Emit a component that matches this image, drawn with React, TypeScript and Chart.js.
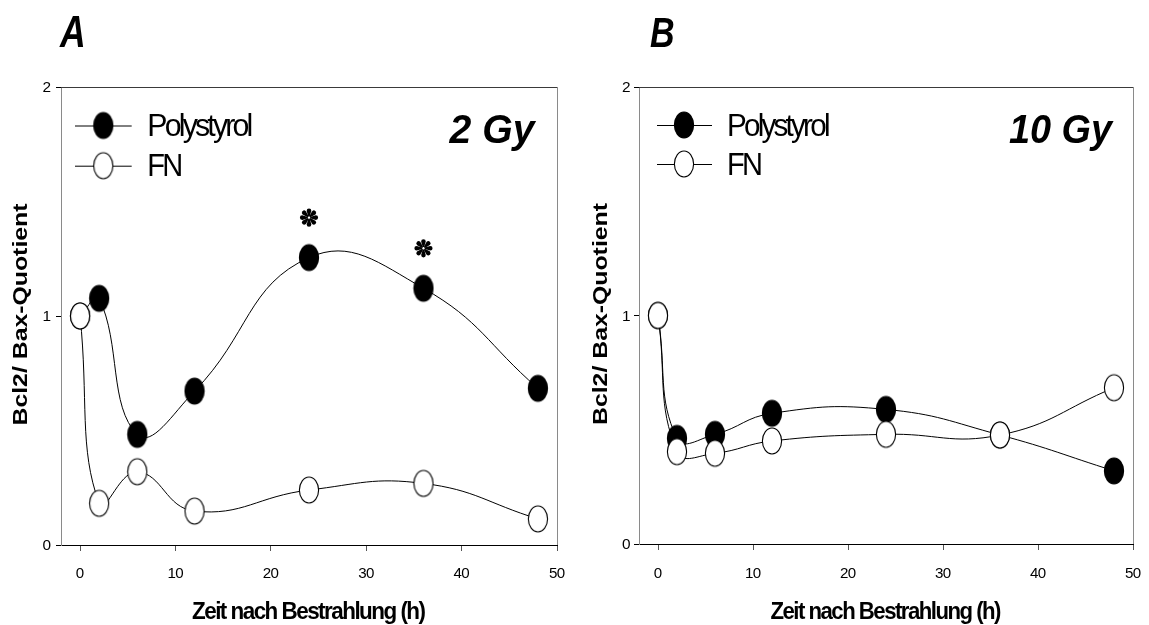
import React, { useEffect, useRef } from 'react';
import { Chart, registerables } from 'chart.js';

Chart.register(...registerables);

// ---------- data ----------
const hours = [0, 2, 6, 12, 24, 36, 48];
const polystyrol2Gy = [1.0, 1.077, 0.483, 0.672, 1.255, 1.121, 0.684];
const fn2Gy = [1.0, 0.182, 0.32, 0.148, 0.24, 0.269, 0.114];
const polystyrol10Gy = [1.0, 0.462, 0.48, 0.572, 0.589, 0.477, 0.32];
const fn10Gy = [1.0, 0.404, 0.397, 0.451, 0.48, 0.477, 0.684];
const significant2Gy = [24, 36];
const significant10Gy: number[] = [];
const xTickValues = [0, 10, 20, 30, 40, 50];
const yTickValues = [0, 1, 2];
const seriesNames = ['Polystyrol', 'FN'];
const panelLetters = ['A', 'B'];
const doseLabels = ['2 Gy', '10 Gy'];
const xTitle = 'Zeit nach Bestrahlung (h)';
const yTitle = 'Bcl2/ Bax-Quotient';

const FF = '"Liberation Sans", Arial, Helvetica, sans-serif';
const H = 625;

function makeMarker(filled: boolean) {
  const c = document.createElement('canvas');
  c.width = 22;
  c.height = 30;
  const g = c.getContext('2d')!;
  g.beginPath();
  g.ellipse(11, 15, 9.6, 13, 0, 0, Math.PI * 2);
  g.fillStyle = filled ? '#000' : '#fff';
  g.fill();
  g.lineWidth = 1.1;
  g.strokeStyle = '#000';
  g.stroke();
  return c;
}

type TextOpts = {
  size: number;
  weight?: string;
  style?: string;
  spacing?: number;
  x: number;
  y: number;
  align?: 'left' | 'center' | 'right';
  width?: number;
  cap?: number;
  rotate?: boolean;
  sx?: number;
};

function drawText(ctx: CanvasRenderingContext2D, text: string, o: TextOpts) {
  ctx.save();
  ctx.font = `${o.style || 'normal'} ${o.weight || 'normal'} ${o.size}px ${FF}`;
  ctx.textAlign = 'left';
  ctx.textBaseline = 'alphabetic';
  ctx.fillStyle = '#000';
  const sp = o.spacing || 0;
  const chars = Array.from(text);
  const ws = chars.map((ch) => ctx.measureText(ch).width);
  const total = ws.reduce((a, b) => a + b, 0) + sp * (chars.length - 1);
  const capH = ctx.measureText('H').actualBoundingBoxAscent || o.size * 0.716;
  const sx = o.width ? o.width / total : o.sx || 1;
  const sy = o.cap ? o.cap / capH : 1;
  ctx.translate(o.x, o.y);
  if (o.rotate) ctx.rotate(-Math.PI / 2);
  ctx.scale(sx, sy);
  const align = o.rotate ? 'center' : o.align || 'left';
  let cx = align === 'left' ? 0 : align === 'center' ? -total / 2 : -total;
  chars.forEach((ch, i) => {
    ctx.fillText(ch, cx, 0);
    cx += ws[i] + sp;
  });
  ctx.restore();
}

function drawStar(ctx: CanvasRenderingContext2D, cx: number, cy: number) {
  ctx.save();
  ctx.translate(cx, cy);
  ctx.fillStyle = '#000';
  for (let k = 0; k < 8; k++) {
    ctx.save();
    ctx.rotate((k * Math.PI) / 4);
    ctx.beginPath();
    ctx.moveTo(1.2, -0.7);
    ctx.lineTo(6.6, -2.3);
    ctx.arc(6.8, 0, 2.3, -Math.PI / 2, Math.PI / 2);
    ctx.lineTo(1.2, 0.7);
    ctx.closePath();
    ctx.fill();
    ctx.restore();
  }
  ctx.restore();
}

type PanelCfg = {
  index: number;
  canvasLeft: number;
  canvasWidth: number;
  pad: { left: number; right: number; top: number; bottom: number };
  poly: number[];
  fn: number[];
  sig: number[];
  letter: { x: number; y: number; width: number; cap: number };
  dose: { right: number; y: number; width: number; cap: number };
  legend: { x1: number; x2: number; mx: number; tx: number; rows: number[]; widths: number[] };
  yTitleX: number;
  xTitle: { y: number; width: number };
  yLabelGap: number;
};

const panels: PanelCfg[] = [
  {
    index: 0,
    canvasLeft: 0,
    canvasWidth: 575,
    pad: { left: 53, right: 18, top: 87, bottom: 74 },
    poly: polystyrol2Gy,
    fn: fn2Gy,
    sig: significant2Gy,
    letter: { x: 60, y: 46.7, width: 25.7, cap: 31.7 },
    dose: { right: 534.6, y: 143.3, width: 85, cap: 28.3 },
    legend: { x1: 75, x2: 131.7, mx: 103.3, tx: 147.3, rows: [125.5, 165.7], widths: [106, 36] },
    yTitleX: 26.5,
    xTitle: { y: 619.3, width: 234 },
    yLabelGap: 10,
  },
  {
    index: 1,
    canvasLeft: 575,
    canvasWidth: 574,
    pad: { left: 56, right: 16, top: 87, bottom: 75 },
    poly: polystyrol10Gy,
    fn: fn10Gy,
    sig: significant10Gy,
    letter: { x: 650, y: 46.7, width: 24.6, cap: 30 },
    dose: { right: 1112, y: 143.3, width: 103, cap: 28.3 },
    legend: { x1: 657, x2: 712, mx: 684, tx: 727, rows: [125, 164], widths: [103.5, 36] },
    yTitleX: 606.5,
    xTitle: { y: 619.3, width: 231 },
    yLabelGap: 8.5,
  },
];

function Panel({ cfg }: { cfg: PanelCfg }) {
  const ref = useRef<HTMLCanvasElement>(null);

  useEffect(() => {
    const canvas = ref.current;
    if (!canvas) return;
    const filled = makeMarker(true);
    const open = makeMarker(false);
    const off = cfg.canvasLeft;

    const decor = {
      id: 'decor' + cfg.index,
      afterDraw(chart: any) {
        const ctx: CanvasRenderingContext2D = chart.ctx;
        const a = chart.chartArea;
        const xs = chart.scales.x;
        const ys = chart.scales.y;
        ctx.save();
        // top & right frame
        ctx.lineWidth = 1;
        ctx.strokeStyle = '#3a3a3a';
        ctx.beginPath();
        ctx.moveTo(a.left, a.top + 0.5);
        ctx.lineTo(a.right + 0.5, a.top + 0.5);
        ctx.stroke();
        ctx.strokeStyle = '#8a8a8a';
        ctx.beginPath();
        ctx.moveTo(a.right + 0.5, a.top);
        ctx.lineTo(a.right + 0.5, a.bottom);
        ctx.stroke();
        ctx.restore();

        // tick labels
        xTickValues.forEach((v) => {
          drawText(ctx, String(v), { size: 14, x: xs.getPixelForValue(v), y: 577.7, align: 'center', sx: 1.08, spacing: -0.6 });
        });
        yTickValues.forEach((v) => {
          drawText(ctx, String(v), { size: 14, x: a.left - cfg.yLabelGap, y: ys.getPixelForValue(v) + 5, align: 'right', sx: 1.1 });
        });

        // axis titles
        drawText(ctx, xTitle, {
          size: 22,
          weight: 'bold',
          spacing: -1.5,
          x: (a.left + a.right) / 2,
          y: cfg.xTitle.y,
          align: 'center',
          width: cfg.xTitle.width,
          cap: 16,
        });
        drawText(ctx, yTitle, {
          size: 20,
          weight: 'bold',
          x: cfg.yTitleX - off,
          y: ys.getPixelForValue(1) - 1.5,
          rotate: true,
          width: 222,
          cap: 14,
        });

        // panel letter & dose
        drawText(ctx, panelLetters[cfg.index], {
          size: 44,
          weight: 'bold',
          style: 'italic',
          x: cfg.letter.x - off,
          y: cfg.letter.y,
          width: cfg.letter.width,
          cap: cfg.letter.cap,
        });
        drawText(ctx, doseLabels[cfg.index], {
          size: 39,
          weight: 'bold',
          style: 'italic',
          x: cfg.dose.right - off,
          y: cfg.dose.y,
          align: 'right',
          width: cfg.dose.width,
          cap: cfg.dose.cap,
        });

        // legend
        const L = cfg.legend;
        [filled, open].forEach((mk, i) => {
          const ry = L.rows[i];
          ctx.save();
          ctx.strokeStyle = '#000';
          ctx.lineWidth = 1;
          ctx.beginPath();
          ctx.moveTo(L.x1 - off, ry + 0.5);
          ctx.lineTo(L.x2 - off, ry + 0.5);
          ctx.stroke();
          ctx.drawImage(mk, L.mx - off - mk.width / 2, ry - mk.height / 2);
          ctx.restore();
          drawText(ctx, seriesNames[i], {
            size: 30,
            spacing: -2.8,
            x: L.tx - off,
            y: ry + 10.5,
            width: L.widths[i],
            cap: 21,
          });
        });

        // significance markers
        cfg.sig.forEach((h) => {
          const idx = hours.indexOf(h);
          drawStar(ctx, xs.getPixelForValue(h), ys.getPixelForValue(cfg.poly[idx]) - 40);
        });
      },
    };

    const chart = new Chart(canvas, {
      type: 'line',
      data: {
        datasets: [
          {
            label: seriesNames[0],
            data: hours.map((h, i) => ({ x: h, y: cfg.poly[i] })),
            borderColor: '#000',
            borderWidth: 1,
            pointStyle: filled as any,
            pointRadius: 10,
            tension: 0.45,
            order: 1,
            clip: false as any,
          },
          {
            label: seriesNames[1],
            data: hours.map((h, i) => ({ x: h, y: cfg.fn[i] })),
            borderColor: '#000',
            borderWidth: 1,
            pointStyle: open as any,
            pointRadius: 10,
            tension: 0.45,
            order: 0,
            clip: false as any,
          },
        ],
      },
      options: {
        animation: false,
        responsive: false,
        devicePixelRatio: 1,
        events: [],
        layout: { padding: cfg.pad },
        plugins: { legend: { display: false }, tooltip: { enabled: false }, title: { display: false } },
        scales: {
          x: {
            type: 'linear',
            min: -2,
            max: 50,
            afterBuildTicks: (s: any) => {
              s.ticks = xTickValues.map((v) => ({ value: v }));
            },
            afterFit: (s: any) => {
              s.height = 6;
            },
            ticks: { display: false },
            grid: { display: true, drawOnChartArea: false, drawTicks: true, tickLength: 6, color: '#555', lineWidth: 1 },
            border: { display: true, color: '#000', width: 1 },
          },
          y: {
            type: 'linear',
            min: 0,
            max: 2,
            afterBuildTicks: (s: any) => {
              s.ticks = yTickValues.map((v) => ({ value: v }));
            },
            afterFit: (s: any) => {
              s.width = 8;
            },
            ticks: { display: false },
            grid: { display: true, drawOnChartArea: false, drawTicks: true, tickLength: 5, color: '#000', lineWidth: 1 },
            border: { display: true, color: '#8a8a8a', width: 1 },
          },
        },
      } as any,
      plugins: [decor],
    });
    return () => chart.destroy();
  }, [cfg]);

  return (
    <canvas
      ref={ref}
      width={cfg.canvasWidth}
      height={H}
      style={{ position: 'absolute', left: cfg.canvasLeft, top: 0, width: cfg.canvasWidth, height: H }}
    />
  );
}

export default function App() {
  return (
    <div style={{ position: 'fixed', left: 0, top: 0, width: 1149, height: H, background: '#fff', overflow: 'hidden' }}>
      {panels.map((p) => (
        <Panel key={p.index} cfg={p} />
      ))}
    </div>
  );
}
